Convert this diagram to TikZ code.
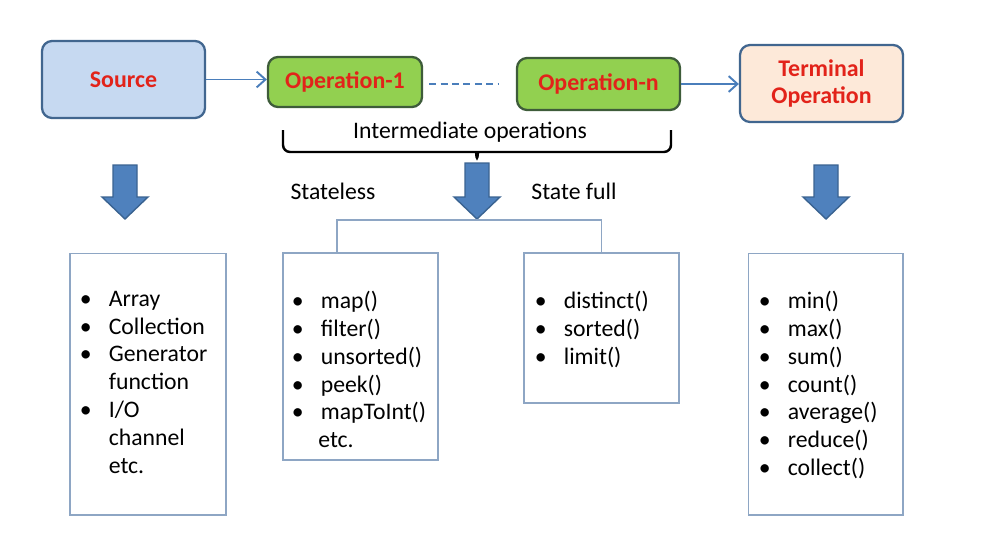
\documentclass[tikz,border=0pt]{standalone}
\usepackage{fontspec}
\setmainfont{Carlito}
\usetikzlibrary{positioning,arrows.meta}

\definecolor{srcblue}{HTML}{C6D9F1}
\definecolor{opgreen}{HTML}{92D050}
\definecolor{termpeach}{HTML}{FDE9D9}
\definecolor{edgeblue}{HTML}{41668F}
\definecolor{edgegreen}{HTML}{3E5C3A}
\definecolor{labelred}{HTML}{E2231A}
\definecolor{linkblue}{HTML}{4A7EBB}
\definecolor{fatblue}{HTML}{4F81BD}
\definecolor{fatedge}{HTML}{3A6391}
\definecolor{frameblue}{HTML}{8EA6C4}

\newcommand{\bul}{\makebox[0.58cm][l]{\textbullet}}
\newcommand{\ind}{\hspace*{0.58cm}}

\begin{document}
\begin{tikzpicture}[
    x=0.02cm, y=-0.02cm,
    stage/.style={rectangle, rounded corners=0.2cm, line width=1.3pt, align=center, minimum width=3.26cm, minimum height=1.54cm, font=\fontsize{13.6}{15.9}\selectfont\bfseries, text=labelred},
    opbox/.style={stage, draw=edgegreen, fill=opgreen, minimum height=1cm},
    listbox/.style={rectangle, draw=frameblue, line width=0.6pt, minimum width=3.1cm},
    listtext/.style={anchor=north west, inner sep=0pt, align=left, font=\fontsize{13.5}{15.9}\selectfont},
    plain/.style={font=\fontsize{13.5}{15.9}\selectfont},
    flowarrow/.style={-{Straight Barb[length=5pt,width=9pt]}, draw=linkblue, line width=1.1pt},
    blockarrow/.style={fill=fatblue, draw=fatedge, line width=0.8pt, line join=miter},
    treeline/.style={draw=frameblue, line width=0.8pt}
]
\useasboundingbox (0,0) rectangle (993,544);

% Pipeline
\node[stage, draw=edgeblue, fill=srcblue] (source) at (123.5,79.5) {Source};
\node[opbox, minimum width=3.08cm] (op1) at (345,82) {Operation-1};
\node[opbox, minimum height=1.04cm] (opn) at (598.5,84) {Operation-n};
\node[stage, draw=edgeblue, fill=termpeach] (terminal) at (821.5,83.5) {Terminal\\Operation};

\draw[flowarrow] (source.east) -- (source.east -| op1.west);
\draw[draw=linkblue, line width=1.1pt, dash pattern=on 4pt off 2.5pt, shorten <=3.4pt, shorten >=9.6pt] (op1.east |- opn.west) -- (opn.west);
\draw[flowarrow] (opn.east) -- (opn.east -| terminal.west);

% Brace
\node[plain] (inter) at (470,132) {Intermediate operations};
\draw[line width=1.4pt, rounded corners=4pt] (283,130) -- (283,152) -- (470,152) .. controls (476,152) .. (477,162) .. controls (478,152) .. (484,152) -- (671,152) -- (671,130);

% Down arrows
\draw[blockarrow] (113,165) -- (137,165) -- (137,197) -- (148,197) -- (125,219) -- (102,197) -- (113,197) -- cycle;
\draw[blockarrow] (465,163) -- (489,163) -- (489,197) -- (500,197) -- (477,219) -- (454,197) -- (465,197) -- cycle;
\draw[blockarrow] (814,165) -- (838,165) -- (838,197) -- (849,197) -- (826,219) -- (803,197) -- (814,197) -- cycle;

\node[plain] (stateless) at (333,191) {Stateless};
\node[plain] (statefull) at (574,191) {State full};

% Boxes
\node[listbox, minimum width=3.12cm, minimum height=5.24cm] (srcbox) at (148,384) {};
\node[listbox, minimum height=4.14cm] (lessbox) at (360.5,356.5) {};
\node[listbox, minimum height=3cm] (fullbox) at (601.5,328) {};
\node[listbox, minimum height=5.24cm] (termbox) at (825.5,384) {};

\coordinate (fork) at (337,220);
\draw[treeline] (fork |- lessbox.north) -- (fork) -| (fullbox.north);

% Lists
\node[listtext] (srclist) at ([shift={(10,38)}]srcbox.north west)
  {\bul Array\\ \bul Collection\\ \bul Generator\\ \ind function\\ \bul I/O\\ \ind channel\\ \ind etc.};
\node[listtext] (lesslist) at ([shift={(9,38)}]lessbox.north west)
  {\bul map()\\ \bul filter()\\ \bul unsorted()\\ \bul peek()\\ \bul mapToInt()\\ \hspace*{0.53cm}etc.};
\node[listtext] (fulllist) at ([shift={(11,38)}]fullbox.north west)
  {\bul distinct()\\ \bul sorted()\\ \bul limit()};
\node[listtext] (termlist) at ([shift={(11,38)}]termbox.north west)
  {\bul min()\\ \bul max()\\ \bul sum()\\ \bul count()\\ \bul average()\\ \bul reduce()\\ \bul collect()};

\end{tikzpicture}
\end{document}
